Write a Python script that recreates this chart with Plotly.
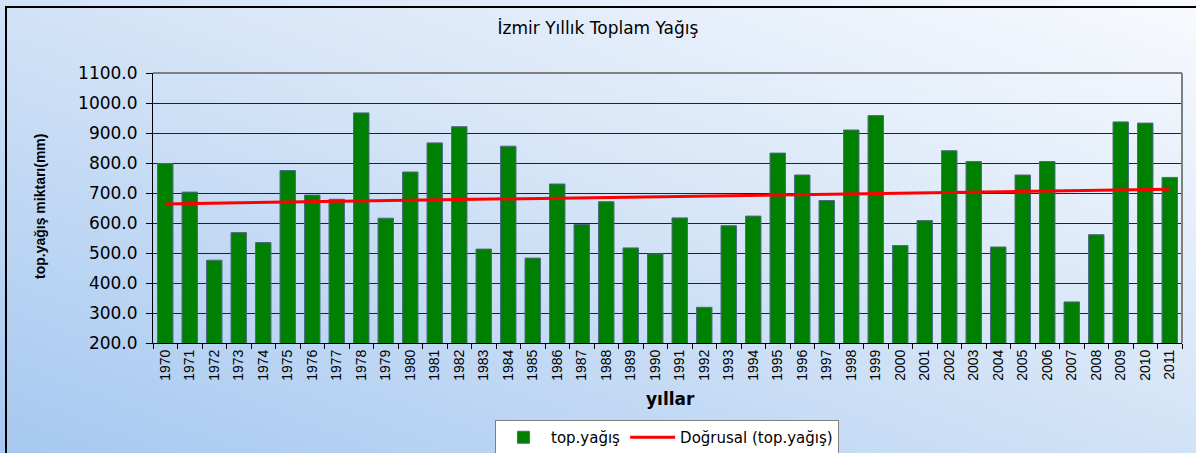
import base64
import numpy as np
import plotly.graph_objects as go

years = [str(y) for y in range(1970, 2012)]
rain = [798, 703, 476, 568, 535, 775, 693, 679, 967, 616,
        770, 867, 921, 513, 856, 483, 730, 595, 671, 517,
        497, 617, 319, 591, 623, 833, 760, 675, 910, 958,
        525, 608, 841, 805, 520, 760, 805, 337, 561, 937,
        933, 752]
y_ticks = [200, 300, 400, 500, 600, 700, 800, 900, 1000, 1100]

# linear trend ("Doğrusal") fitted to the series
idx = np.arange(len(rain))
slope, icpt = np.polyfit(idx, rain, 1)
trend = list(icpt + slope * idx)

W, H = 1196, 453
L, R, T, B = 153, 14, 73, 110
pw, ph = W - L - R, H - T - B

def px(xp):
    return (xp - L) / pw

def py(yp):
    return (H - yp - B) / ph

svg = ('<svg xmlns="http://www.w3.org/2000/svg" width="1196" height="453">'
       '<defs><linearGradient id="g" x1="0" y1="1" x2="1" y2="0">'
       '<stop offset="0" stop-color="#a6c8f0"/>'
       '<stop offset="0.55" stop-color="#d6e5f7"/>'
       '<stop offset="1" stop-color="#f8fafe"/>'
       '</linearGradient></defs>'
       '<rect width="1196" height="453" fill="url(#g)"/></svg>')
bg_uri = "data:image/svg+xml;base64," + base64.b64encode(svg.encode()).decode()

fig = go.Figure()
fig.add_trace(go.Bar(
    x=years, y=rain, name="top.yağış",
    marker=dict(color="#008000", line=dict(color="#4d6b80", width=1)),
))
fig.add_trace(go.Scatter(
    x=years, y=trend, mode="lines", name="Doğrusal (top.yağış)",
    line=dict(color="#ff0000", width=3),
))

fig.update_layout(
    width=W, height=H,
    margin=dict(l=L, r=R, t=T, b=B),
    paper_bgcolor="#d6e5f7",
    plot_bgcolor="white",
    bargap=0.37,
    font=dict(family="Liberation Sans, Arial, sans-serif", color="black"),
    title=dict(text="İzmir Yıllık Toplam Yağış", x=0.5, xanchor="center", xref="container",
               y=1 - 28 / H, yanchor="middle", yref="container",
               font=dict(family="DejaVu Sans", size=17, color="black")),
    showlegend=True,
    legend=dict(orientation="h", x=px(667), xanchor="center",
                yref="container", y=(H - 420) / H, yanchor="top",
                bgcolor="white", bordercolor="#808080", borderwidth=1,
                font=dict(size=15, family="DejaVu Sans"),
                itemwidth=45, tracegroupgap=0),
    images=[dict(source=bg_uri, xref="paper", yref="paper", x=px(0), y=py(0),
                 sizex=W / pw, sizey=H / ph, xanchor="left", yanchor="top",
                 sizing="stretch", layer="below")],
)

fig.update_xaxes(
    type="category", tickangle=-90, tickson="boundaries",
    ticks="outside", ticklen=5, tickcolor="black",
    showline=True, linecolor="black", linewidth=1,
    showgrid=False, tickfont=dict(size=14, family="Liberation Sans"),
)
fig.update_yaxes(
    range=[200, 1100], tickvals=y_ticks, tickformat=".1f",
    ticks="outside", ticklen=6, tickcolor="black",
    showline=True, linecolor="black", linewidth=1,
    showgrid=True, gridcolor="#222222", gridwidth=1,
    tickfont=dict(size=17, family="DejaVu Sans"),
    ticklabelstandoff=5,
    zeroline=False,
)

# plot area top/right border (gray)
fig.add_shape(type="line", xref="paper", yref="paper", x0=0, x1=1, y0=1, y1=1,
              line=dict(color="#808080", width=2))
fig.add_shape(type="line", xref="paper", yref="paper", x0=1, x1=1, y0=0, y1=1,
              line=dict(color="#808080", width=2))
# outer chart frame
fig.add_shape(type="rect", xref="paper", yref="paper",
              x0=px(6), x1=px(1210), y0=py(7), y1=py(470),
              line=dict(color="black", width=2), layer="above")

fig.add_annotation(text="<b>top.yağış miktarı(mm)</b>", xref="paper", yref="paper",
                   x=px(40), y=py(207), xanchor="center", yanchor="middle",
                   textangle=-90, showarrow=False,
                   font=dict(size=14, family="Liberation Sans"))
fig.add_annotation(text="<b>yıllar</b>", xref="paper", yref="paper",
                   x=px(670), y=py(399), xanchor="center", yanchor="middle",
                   showarrow=False,
                   font=dict(size=17, family="DejaVu Sans"))

fig.write_html("out.html", config={"displayModeBar": False},
               post_script="document.body.style.margin='0';document.body.style.overflow='hidden';")
